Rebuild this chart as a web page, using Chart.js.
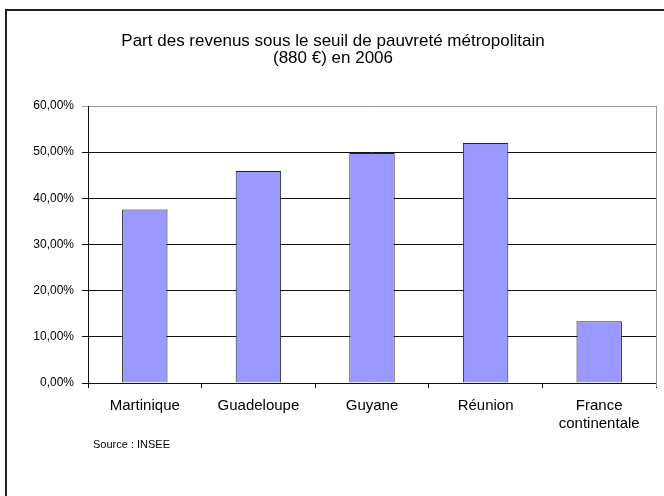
<!DOCTYPE html>
<html>
<head>
<meta charset="utf-8">
<script src="https://cdn.jsdelivr.net/npm/chart.js@4/dist/chart.umd.min.js"></script>
<style>
  html, body { margin: 0; padding: 0; background: #fff; }
  #wrap { width: 664px; height: 496px; position: relative; }
</style>
</head>
<body>
<div id="wrap"><canvas id="theChart" width="664" height="496"></canvas></div>
<script>
const regions = ["Martinique", "Guadeloupe", "Guyane", "Réunion", ["France", "continentale"]];
const shareBelow = [37.6, 45.9, 49.8, 52.0, 13.4];
const titleLines = ["Part des revenus sous le seuil de pauvreté métropolitain", "(880 €) en 2006"];
const sourceText = "Source : INSEE";

const fontFamily = "'Liberation Sans', Arial, sans-serif";

// frame around the whole picture (only top and left edges are visible)
const framePlugin = {
  id: "frame",
  beforeDraw(chart) {
    const ctx = chart.ctx;
    ctx.save();
    ctx.fillStyle = "#fff";
    ctx.fillRect(0, 0, chart.width, chart.height);
    ctx.strokeStyle = "#222";
    ctx.lineWidth = 2;
    ctx.beginPath();
    ctx.moveTo(6, chart.height);
    ctx.lineTo(6, 10);
    ctx.lineTo(chart.width, 10);
    ctx.stroke();
    ctx.restore();
  },
  afterDatasetsDraw(chart) {
    const a = chart.chartArea;
    const ctx = chart.ctx;
    ctx.save();
    // grey right edge of the plot area
    ctx.strokeStyle = "#999";
    ctx.lineWidth = 1;
    ctx.beginPath();
    ctx.moveTo(a.right + 0.5, a.top);
    ctx.lineTo(a.right + 0.5, a.bottom + 4);
    ctx.stroke();
    // source note under the axis labels
    ctx.fillStyle = "#000";
    ctx.font = "11px " + fontFamily;
    ctx.textBaseline = "middle";
    ctx.textAlign = "left";
    ctx.fillText(sourceText, a.left + 5, a.bottom + 62);
    ctx.restore();
  },
};

const myChart = new Chart(document.getElementById("theChart"), {
  type: "bar",
  data: {
    labels: regions,
    datasets: [
      {
        data: shareBelow,
        backgroundColor: "#9999ff",
        borderColor: "#222",
        borderWidth: 1,
        barPercentage: 0.4,
        categoryPercentage: 1,
      },
    ],
  },
  options: {
    responsive: false,
    animation: false,
    layout: { padding: { left: 10, right: 8, top: 0, bottom: 54 } },
    plugins: {
      legend: { display: false },
      tooltip: { enabled: false },
      title: {
        display: true,
        text: titleLines,
        color: "#000",
        font: { family: fontFamily, size: 17, weight: "normal", lineHeight: 1.0 },
        padding: { top: 33, bottom: 39 },
      },
    },
    scales: {
      y: {
        min: 0,
        max: 60,
        afterFit(scale) {
          scale.width = 78;
        },
        ticks: {
          stepSize: 10,
          color: "#000",
          padding: 8,
          font: { family: fontFamily, size: 12 },
          callback: (v) => v.toFixed(2).replace(".", ",") + "%",
        },
        grid: {
          color: (c) => (c.tick && c.tick.value === 60 ? "#999" : "#111"),
          tickLength: 6,
          lineWidth: 1,
        },
        border: { color: "#111", width: 1 },
      },
      x: {
        ticks: {
          color: "#000",
          padding: 9,
          maxRotation: 0,
          font: { family: fontFamily, size: 15, lineHeight: 1.2 },
        },
        grid: {
          offset: true,
          drawOnChartArea: false,
          tickLength: 5,
          color: "#111",
        },
        border: { color: "#111", width: 1 },
      },
    },
  },
  plugins: [framePlugin],
});
</script>
</body>
</html>
